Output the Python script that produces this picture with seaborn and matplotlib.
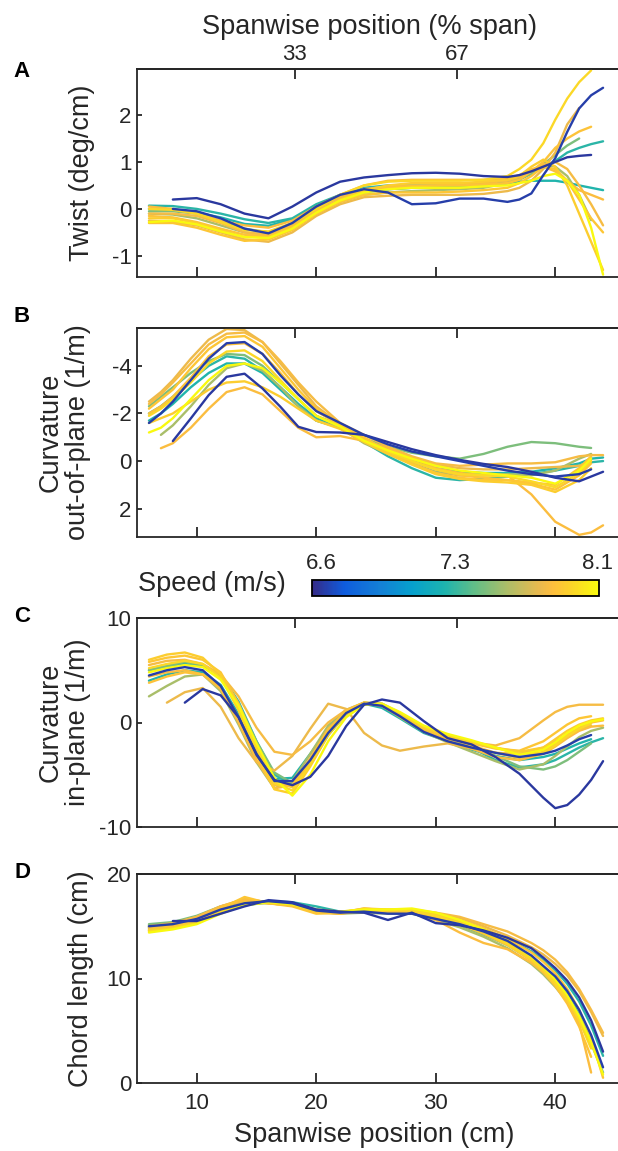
import numpy as np
import pandas as pd
import matplotlib
matplotlib.use("Agg")
import matplotlib.pyplot as plt
import matplotlib.cm as cm
from matplotlib.colors import LinearSegmentedColormap, Normalize
import seaborn as sns

sns.set_theme(style="white")
plt.rcParams["font.family"] = ["Liberation Sans", "DejaVu Sans"]
plt.rcParams["axes.unicode_minus"] = False

INK = "#262626"
nan = np.nan

# flight speed of each trial (m/s)
SPEED = [6.6, 6.62, 7.3, 7.28, 7.5, 7.6, 7.8, 7.85, 7.9, 7.88, 7.93, 7.97, 8.1, 7.83]

# ---- A: twist (deg/cm) ----
XA = [6, 8, 10, 12, 14, 16, 18, 20, 22, 24, 26, 28, 30, 32, 34, 36, 37, 38, 39, 40, 41, 42, 43, 44]
TWIST = [
    [nan, 0.20, 0.23, 0.10, -0.10, -0.20, 0.05, 0.35, 0.58, 0.67, 0.72, 0.76, 0.77, 0.75, 0.70, 0.68, 0.72, 0.80, 0.90, 1.00, 1.10, 1.13, 1.15, nan],
    [nan, 0.00, -0.05, -0.20, -0.42, -0.52, -0.30, 0.05, 0.30, 0.42, 0.35, 0.10, 0.12, 0.22, 0.22, 0.15, 0.20, 0.33, 0.72, 1.08, 1.64, 2.14, 2.42, 2.58],
    [0.07, 0.06, 0.00, -0.10, -0.22, -0.30, -0.20, 0.10, 0.30, 0.45, 0.50, 0.50, 0.50, 0.50, 0.52, 0.58, 0.65, 0.75, 0.90, 1.02, 1.20, 1.30, 1.38, 1.44],
    [0.00, -0.02, -0.08, -0.18, -0.32, -0.36, -0.22, 0.05, 0.25, 0.38, 0.42, 0.45, 0.45, 0.47, 0.50, 0.55, 0.58, 0.60, 0.60, 0.60, 0.56, 0.50, 0.45, 0.40],
    [-0.05, -0.05, -0.10, -0.25, -0.42, -0.50, -0.35, -0.05, 0.20, 0.35, 0.42, 0.45, 0.45, 0.47, 0.50, 0.55, 0.62, 0.75, 0.95, 1.15, 1.35, 1.50, nan, nan],
    [-0.10, -0.12, -0.20, -0.35, -0.50, -0.55, -0.40, -0.10, 0.15, 0.30, 0.35, 0.38, 0.40, 0.42, 0.45, 0.55, 0.65, 0.80, 0.95, 0.90, 0.70, 0.30, -0.24, nan],
    [-0.25, -0.28, -0.35, -0.50, -0.65, -0.70, -0.50, -0.15, 0.10, 0.25, 0.28, 0.30, 0.30, 0.30, 0.32, 0.38, 0.45, 0.60, 0.85, 1.20, 1.80, 2.15, nan, nan],
    [0.05, 0.00, -0.10, -0.25, -0.35, -0.40, -0.25, 0.05, 0.30, 0.50, 0.60, 0.62, 0.62, 0.62, 0.62, 0.65, 0.72, 0.85, 0.90, 0.80, 0.60, 0.40, 0.30, 0.20],
    [-0.30, -0.30, -0.40, -0.55, -0.68, -0.65, -0.45, -0.10, 0.15, 0.30, 0.35, 0.35, 0.35, 0.37, 0.40, 0.45, 0.55, 0.70, 0.90, 0.85, 0.60, 0.20, -0.20, -0.50],
    [-0.15, -0.18, -0.28, -0.42, -0.55, -0.58, -0.38, -0.05, 0.20, 0.38, 0.45, 0.48, 0.50, 0.50, 0.52, 0.55, 0.62, 0.80, 1.00, 1.30, 1.50, 1.65, 1.75, nan],
    [-0.20, -0.20, -0.30, -0.45, -0.60, -0.60, -0.40, -0.10, 0.20, 0.40, 0.50, 0.55, 0.55, 0.55, 0.58, 0.62, 0.70, 0.90, 1.05, 0.90, 0.50, -0.10, -0.70, -1.30],
    [0.00, -0.02, -0.10, -0.28, -0.45, -0.48, -0.30, 0.00, 0.30, 0.50, 0.58, 0.60, 0.60, 0.60, 0.62, 0.70, 0.85, 1.05, 1.40, 1.90, 2.35, 2.70, 2.95, nan],
    [-0.28, -0.25, -0.33, -0.48, -0.60, -0.62, -0.42, -0.08, 0.18, 0.35, 0.42, 0.45, 0.45, 0.45, 0.48, 0.50, 0.55, 0.60, 0.70, 0.75, 0.60, 0.30, -0.40, -1.40],
    [-0.10, -0.10, -0.15, -0.30, -0.50, -0.55, -0.35, 0.00, 0.25, 0.42, 0.48, 0.50, 0.50, 0.52, 0.55, 0.60, 0.68, 0.82, 0.95, 1.00, 0.85, 0.50, 0.10, -0.35],
]

# ---- B: out-of-plane curvature (1/m) ----
XB = [6, 7, 8, 9.5, 11, 12.5, 14, 15.5, 17, 18.5, 20, 22, 24, 26, 28, 30, 32, 34, 36, 38, 40, 42, 43, 44]
CURV_OUT = [
    [nan, nan, -0.84, -1.79, -2.77, -3.54, -3.67, -3.05, -2.28, -1.44, -1.22, -1.20, -1.10, -0.80, -0.50, -0.25, -0.05, 0.12, 0.25, 0.45, 0.70, 0.85, 0.65, 0.45],
    [-1.6, -2.0, -2.5, -3.4, -4.3, -4.95, -5.0, -4.5, -3.6, -2.8, -2.1, -1.6, -1.1, -0.7, -0.4, -0.2, 0.0, 0.2, 0.4, 0.55, 0.65, 0.55, 0.35, nan],
    [-2.0, -2.3, -2.7, -3.4, -4.0, -4.4, -4.3, -3.8, -3.1, -2.4, -1.8, -1.45, -0.8, -0.2, 0.3, 0.7, 0.8, 0.75, 0.65, 0.55, 0.4, 0.2, 0.05, 0.0],
    [-1.7, -2.0, -2.4, -3.1, -3.7, -4.1, -4.1, -3.7, -3.0, -2.3, -1.7, -1.4, -0.8, -0.4, 0.0, 0.3, 0.45, 0.5, 0.5, 0.45, 0.3, 0.1, -0.1, -0.15],
    [-2.3, -2.7, -3.1, -3.7, -4.2, -4.5, -4.45, -4.0, -3.3, -2.6, -1.9, -1.5, -0.95, -0.6, -0.35, -0.2, -0.1, -0.3, -0.6, -0.8, -0.75, -0.6, -0.55, nan],
    [nan, -1.1, -1.5, -2.3, -3.2, -3.9, -4.1, -3.8, -3.1, -2.3, -1.7, -1.4, -0.75, -0.3, 0.1, 0.45, 0.6, 0.6, 0.55, 0.6, 0.4, -0.1, -0.3, nan],
    [-2.5, -2.9, -3.4, -4.3, -5.1, -5.55, -5.5, -5.0, -4.1, -3.2, -2.3, -1.55, -0.9, -0.5, -0.1, 0.15, 0.3, 0.35, 0.35, 0.3, 0.25, 0.2, 0.0, nan],
    [nan, -0.54, -0.75, -1.4, -2.2, -2.9, -3.1, -2.8, -2.1, -1.4, -1.0, -1.05, -0.85, -0.55, -0.15, 0.3, 0.5, 0.6, 0.6, 1.4, 2.55, 3.1, 3.0, 2.7],
    [-2.2, -2.6, -3.0, -3.9, -4.7, -5.2, -5.25, -4.8, -3.9, -3.0, -2.2, -1.55, -1.0, -0.4, 0.1, 0.5, 0.7, 0.8, 0.8, 0.9, 1.0, 0.3, -0.2, nan],
    [-2.0, -2.3, -2.7, -3.5, -4.4, -4.9, -4.95, -4.5, -3.7, -2.8, -2.1, -1.5, -0.9, -0.45, 0.0, 0.35, 0.6, 0.7, 0.8, 0.95, 1.2, 0.6, 0.1, nan],
    [-1.6, -1.8, -2.0, -2.5, -3.0, -3.3, -3.35, -3.1, -2.7, -2.2, -1.7, -1.35, -0.8, -0.3, 0.15, 0.55, 0.75, 0.85, 0.9, 1.0, 1.3, 0.8, 0.3, nan],
    [-1.9, -2.2, -2.6, -3.3, -4.1, -4.6, -4.65, -4.2, -3.4, -2.6, -1.9, -1.45, -0.85, -0.4, 0.0, 0.35, 0.55, 0.6, 0.65, 0.85, 1.1, 0.5, 0.0, nan],
    [-1.2, -1.4, -1.8, -2.6, -3.4, -4.0, -4.1, -3.9, -3.3, -2.6, -1.9, -1.45, -0.85, -0.45, -0.1, 0.2, 0.4, 0.5, 0.6, 0.7, 0.95, 0.4, -0.1, nan],
    [-2.4, -2.8, -3.3, -4.1, -4.9, -5.35, -5.4, -5.0, -4.2, -3.3, -2.5, -1.6, -1.1, -0.6, -0.2, 0.1, 0.2, 0.15, 0.1, 0.1, 0.05, -0.2, -0.25, -0.25],
]

# ---- C: in-plane curvature (1/m) ----
XC = [6, 7.5, 9, 10.5, 12, 13.5, 15, 16.5, 18, 19.5, 21, 22.5, 24, 25.5, 27, 29, 31, 33, 35, 37, 39, 40, 41, 42, 43, 44]
CURV_IN = [
    [nan, nan, 1.9, 3.2, 2.6, 0.5, -3.1, -5.5, -6.0, -5.2, -3.2, -0.35, 1.7, 2.2, 1.9, 0.13, -1.5, -2.1, -3.3, -4.9, -7.2, -8.2, -7.9, -6.9, -5.5, -3.7],
    [4.5, 5.0, 5.3, 5.0, 3.5, 0.5, -3.0, -5.6, -5.6, -3.6, -1.0, 0.9, 1.8, 1.6, 0.6, -0.9, -1.8, -2.4, -2.9, -3.3, -3.0, -2.7, -2.2, -1.6, -1.2, nan],
    [5.0, 5.4, 5.6, 5.4, 4.6, 2.0, -1.8, -5.0, -5.9, -4.0, -1.2, 0.8, 1.8, 1.7, 0.8, -0.6, -1.6, -2.4, -3.6, -4.3, -4.0, -3.6, -3.0, -2.4, -1.9, -1.5],
    [4.0, 4.6, 5.0, 4.8, 3.6, 0.8, -2.8, -5.4, -5.3, -3.0, -0.6, 1.1, 1.8, 1.4, 0.4, -1.0, -1.8, -2.6, -3.2, -3.6, -3.3, -3.0, -2.5, -2.0, -1.6, nan],
    [5.0, 5.4, 5.8, 5.5, 4.5, 1.8, -1.8, -4.8, -5.8, -3.8, -1.0, 0.9, 1.9, 1.8, 0.9, -0.5, -1.4, -2.3, -3.2, -4.2, -4.5, -4.2, -3.6, -2.8, -2.0, nan],
    [2.5, 3.5, 4.4, 4.6, 3.0, -0.2, -3.8, -6.3, -5.6, -3.0, -0.3, 1.2, 1.9, 1.6, 0.5, -0.9, -1.9, -2.8, -3.7, -4.5, -4.0, -3.2, -2.3, -1.4, -0.8, -0.5],
    [nan, 1.9, 2.9, 3.3, 1.5, -1.5, -3.8, -4.6, -3.2, -0.6, 1.8, 1.3, -1.0, -2.2, -2.7, -2.3, -2.0, -2.5, -2.9, -3.0, -2.4, -1.8, -1.2, -0.6, -0.3, nan],
    [4.4, 4.8, 5.0, 4.6, 3.2, 0.0, -3.6, -6.3, -6.0, -3.4, -0.6, 1.0, 1.8, 1.6, 0.6, -0.8, -1.7, -2.5, -3.3, -3.6, -3.0, -2.3, -1.5, -0.8, -0.4, -0.3],
    [5.8, 6.2, 6.4, 6.0, 4.8, 1.8, -2.2, -5.6, -6.2, -3.8, -0.8, 1.0, 1.9, 1.7, 0.7, -0.6, -1.4, -2.0, -2.5, -2.7, -1.8, -1.0, -0.2, 0.4, 0.6, nan],
    [3.8, 4.4, 4.8, 4.6, 3.4, 0.5, -3.2, -6.0, -6.1, -3.5, -0.7, 1.1, 1.9, 1.8, 0.8, -0.6, -1.5, -2.2, -2.9, -3.4, -2.8, -2.0, -1.2, -0.5, 0.0, 0.2],
    [6.0, 6.5, 6.7, 6.2, 4.6, 1.2, -3.0, -6.4, -6.8, -4.2, -1.2, 0.8, 1.8, 1.7, 0.8, -0.5, -1.3, -1.9, -2.4, -2.8, -2.4, -1.6, -0.8, -0.2, 0.2, 0.4],
    [5.2, 5.6, 5.9, 5.6, 4.3, 1.2, -2.6, -5.8, -6.5, -4.0, -1.0, 0.9, 1.8, 1.7, 0.9, -0.4, -1.2, -1.8, -2.4, -3.0, -2.9, -2.2, -1.3, -0.6, -0.1, nan],
    [4.8, 5.2, 5.5, 5.3, 4.1, 1.6, -2.0, -5.3, -7.0, -5.0, -1.8, 0.5, 1.7, 1.8, 1.0, -0.3, -1.1, -1.7, -2.4, -3.1, -2.6, -1.9, -1.0, -0.3, 0.1, 0.3],
    [5.5, 5.9, 6.0, 5.6, 4.6, 2.5, -0.5, -2.8, -3.1, -1.8, 0.0, 1.2, 1.9, 1.7, 0.8, -0.4, -1.3, -1.9, -2.2, -1.5, 0.2, 1.0, 1.5, 1.7, 1.7, 1.7],
]

# ---- D: chord length (cm) ----
XD = [6, 8, 10, 12, 14, 16, 18, 20, 22, 24, 26, 28, 30, 32, 34, 36, 38, 39, 40, 41, 42, 43, 44]
CHORD = [
    [nan, 15.5, 15.5, 16.2, 16.9, 17.5, 17.3, 16.6, 16.4, 16.3, 15.6, 16.3, 15.3, 15.1, 14.6, 13.9, 12.9, 12.0, 11.0, 9.8, 8.2, 6.0, 3.0],
    [15.0, 15.2, 15.7, 16.6, 17.2, 17.4, 17.2, 16.5, 16.3, 16.4, 16.2, 16.2, 15.7, 15.2, 14.5, 13.6, 12.2, 11.2, 10.2, 8.8, 7.0, 4.6, 1.5],
    [15.1, 15.3, 15.8, 16.8, 17.3, 17.4, 17.3, 16.9, 16.4, 16.5, 16.3, 16.4, 16.0, 15.4, 14.7, 13.8, 12.6, 11.8, 10.8, 9.5, 7.8, 5.5, 2.6],
    [14.9, 15.1, 15.6, 16.5, 17.0, 17.3, 17.1, 16.6, 16.3, 16.4, 16.3, 16.3, 15.8, 15.2, 14.4, 13.4, 12.0, 11.0, 9.9, 8.5, 6.6, 4.2, nan],
    [15.2, 15.4, 16.0, 16.9, 17.4, 17.3, 17.1, 16.5, 16.3, 16.5, 16.4, 16.3, 15.8, 15.1, 14.2, 13.2, 11.8, 10.8, 9.6, 8.1, 6.2, 3.8, 1.0],
    [14.8, 15.1, 15.7, 16.6, 17.2, 17.2, 17.0, 16.4, 16.2, 16.3, 16.2, 16.2, 15.6, 14.9, 14.0, 12.9, 11.4, 10.4, 9.2, 7.8, 6.0, 3.9, nan],
    [15.0, 15.3, 15.9, 16.9, 17.6, 17.3, 17.0, 16.4, 16.3, 16.6, 16.5, 16.5, 16.2, 15.8, 15.0, 14.1, 13.0, 12.3, 11.4, 10.3, 8.8, 6.8, 4.5],
    [14.9, 15.2, 15.8, 16.8, 17.5, 17.2, 17.0, 16.3, 16.2, 16.6, 16.5, 16.4, 15.6, 14.4, 13.4, 12.8, 11.5, 10.6, 9.5, 7.9, 5.7, 1.0, nan],
    [14.7, 15.0, 15.6, 16.7, 17.8, 17.2, 16.9, 16.2, 16.3, 16.7, 16.5, 16.6, 16.2, 15.6, 14.8, 13.8, 12.5, 11.6, 10.5, 9.0, 7.0, 4.4, 0.5],
    [14.6, 14.9, 15.5, 16.5, 17.3, 17.2, 17.0, 16.4, 16.2, 16.5, 16.4, 16.4, 15.9, 15.2, 14.3, 13.2, 11.7, 10.6, 9.3, 7.6, 5.4, 2.5, nan],
    [14.6, 14.8, 15.4, 16.3, 17.1, 17.3, 17.1, 16.5, 16.3, 16.5, 16.5, 16.6, 16.1, 15.4, 14.5, 13.4, 11.9, 10.9, 9.7, 8.2, 6.2, 3.6, nan],
    [14.5, 14.8, 15.3, 16.4, 17.2, 17.4, 17.2, 16.6, 16.4, 16.6, 16.6, 16.5, 16.0, 15.3, 14.4, 13.3, 11.8, 10.8, 9.5, 8.0, 6.0, 3.3, nan],
    [14.4, 14.7, 15.2, 16.2, 17.0, 17.3, 17.1, 16.5, 16.4, 16.6, 16.6, 16.7, 16.3, 15.6, 14.7, 13.6, 12.1, 11.1, 9.9, 8.4, 6.4, 3.9, 0.8],
    [15.0, 15.2, 15.9, 16.9, 17.6, 17.3, 17.1, 16.4, 16.3, 16.7, 16.6, 16.6, 16.3, 15.9, 15.2, 14.5, 13.4, 12.7, 11.8, 10.6, 9.0, 7.0, 4.8],
]

SPEED_TICKS = [6.6, 7.33, 8.1]
SPEED_LABELS = ["6.6", "7.3", "8.1"]
PCT_TICKS = [33, 67]

# parula-like colour map
PARULA = LinearSegmentedColormap.from_list("parula", [
    (0.000, (0.2081, 0.1663, 0.5292)),
    (0.111, (0.0591, 0.3598, 0.8683)),
    (0.238, (0.0779, 0.5040, 0.8384)),
    (0.349, (0.0239, 0.6287, 0.8038)),
    (0.460, (0.1133, 0.7015, 0.6859)),
    (0.571, (0.3953, 0.7459, 0.5244)),
    (0.683, (0.6834, 0.7435, 0.4044)),
    (0.794, (0.9139, 0.7258, 0.3063)),
    (0.841, (0.9938, 0.7455, 0.2403)),
    (0.889, (0.9880, 0.8066, 0.1794)),
    (1.000, (0.9763, 0.9831, 0.0538)),
])
NORM = Normalize(6.55, 8.11)


def long_table(xs, rows):
    frames = []
    for i, (spd, ys) in enumerate(zip(SPEED, rows)):
        frames.append(pd.DataFrame({"x": xs, "y": ys, "speed": spd, "trial": i}))
    return pd.concat(frames).dropna()


fig = plt.figure(figsize=(6.18, 11.51), dpi=100)
W, H = 618, 1151

def px_box(left, top, right, bottom):
    return [left / W, 1 - bottom / H, (right - left) / W, (bottom - top) / H]

panels = [
    ("A", XA, TWIST, (-1.45, 2.98), [-1, 0, 1, 2], "Twist (deg/cm)", 69, 277, -0.114),
    ("B", XB, CURV_OUT, (3.19, -5.59), [-4, -2, 0, 2], "Curvature\nout-of-plane (1/m)", 328, 537, -0.151),
    ("C", XC, CURV_IN, (-10, 10), [-10, 0, 10], "Curvature\nin-plane (1/m)", 618, 827, -0.151),
    ("D", XD, CHORD, (0, 20), [0, 10, 20], "Chord length (cm)", 874, 1083, -0.116),
]
letter_y = {"A": 71.5, "B": 316, "C": 616, "D": 873}

for tag, xs, rows, ylim, yticks, ylabel, top, bottom, lab_x in panels:
    ax = fig.add_axes(px_box(137, top, 618, bottom))
    df = long_table(xs, rows)
    sns.lineplot(data=df, x="x", y="y", hue="speed", units="trial", estimator=None,
                 palette=PARULA, hue_norm=NORM, legend=False, lw=1.7, ax=ax)
    # slow trials drawn on top, as in the original
    for line, spd in zip(ax.lines, sorted(SPEED)):
        if spd < 7.0:
            line.set_zorder(3)

    ax.set_xlim(5, 45.25)
    ax.set_ylim(*ylim)
    ax.set_xticks([10, 20, 30, 40])
    ax.set_yticks(yticks)
    last = tag == "D"
    ax.tick_params(axis="x", direction="in", length=7, width=1.3, color=INK,
                   labelsize=16, labelcolor=INK, pad=7, bottom=True, labelbottom=last)
    ax.tick_params(axis="y", direction="in", length=3.5, width=1.3, color=INK,
                   labelsize=16, labelcolor=INK, pad=4, left=True)
    for s in ["left", "bottom", "top"]:
        ax.spines[s].set_color(INK)
        ax.spines[s].set_linewidth(1.3)
    ax.spines["right"].set_visible(False)

    ax.set_ylabel(ylabel, fontsize=19.5, color=INK, linespacing=1.1)
    ax.yaxis.label.set_va("center")
    ax.yaxis.set_label_coords(lab_x, 0.5)
    if last:
        ax.set_xlabel("Spanwise position (cm)", fontsize=19.5, color=INK)
        ax.xaxis.label.set_va("center")
        ax.xaxis.set_label_coords(0.493, -0.249)
    else:
        ax.set_xlabel("")

    sec = ax.secondary_xaxis("top", functions=(lambda x: (x - 5) / 40 * 100,
                                               lambda p: 5 + p * 0.4))
    sec.set_xticks(PCT_TICKS)
    sec.set_xticklabels([str(t) for t in PCT_TICKS] if tag == "A" else [])
    sec.tick_params(direction="in", length=7, width=1.3, color=INK,
                    labelsize=16, labelcolor=INK, pad=3)
    sec.spines["top"].set_color(INK)
    sec.spines["top"].set_linewidth(1.3)

    fig.text(22 / W, 1 - letter_y[tag] / H, tag, fontsize=16, fontweight="bold",
             color="black", ha="center", va="center")

fig.text(370 / W, 1 - 27 / H, "Spanwise position (% span)", fontsize=19.5,
         color=INK, ha="center", va="center")

# colour bar for speed
cax = fig.add_axes(px_box(312, 580, 599, 596))
cb = fig.colorbar(cm.ScalarMappable(norm=NORM, cmap=PARULA), cax=cax,
                  orientation="horizontal", ticks=SPEED_TICKS)
cb.set_ticklabels(SPEED_LABELS)
cax.xaxis.set_ticks_position("top")
cax.tick_params(direction="in", length=4, width=1.2, color=INK, labelsize=16,
                labelcolor=INK, pad=4)
cb.outline.set_linewidth(1.3)
cb.outline.set_edgecolor("black")
fig.text(138 / W, 1 - 584 / H, "Speed (m/s)", fontsize=19.5, color=INK,
         ha="left", va="center")

fig.savefig("out.png", dpi=100)
